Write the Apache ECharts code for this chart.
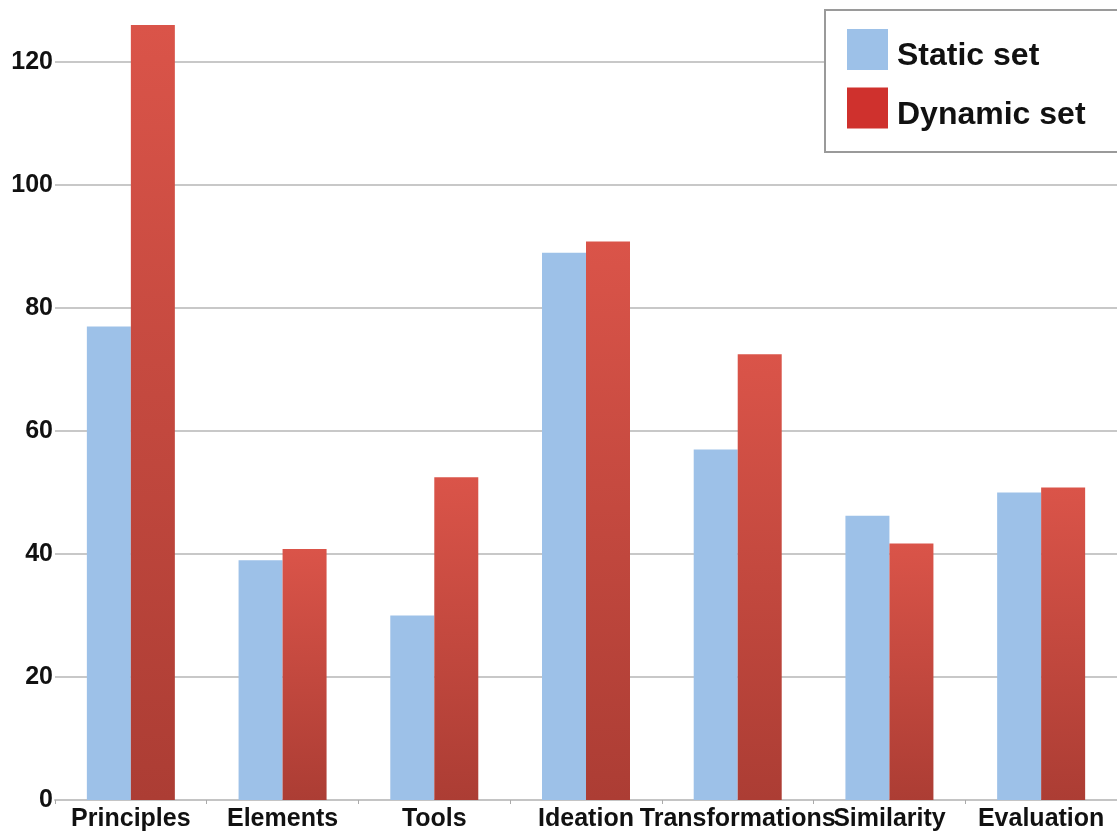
<!DOCTYPE html>
<html>
<head>
<meta charset="utf-8">
<script src="https://cdn.jsdelivr.net/npm/echarts@6/dist/echarts.min.js"></script>
<style>
html,body{margin:0;padding:0;background:#fff;}
#chart{width:1117px;height:834px;}
</style>
</head>
<body>
<div id="chart"></div>
<script>
const categories = ['Principles','Elements','Tools','Ideation','Transformations','Similarity','Evaluation'];
const staticSet = [77, 39, 30, 89, 57, 46.2, 50];
const dynamicSet = [126, 40.8, 52.5, 90.8, 72.5, 41.7, 50.8];
const yTicks = [0, 20, 40, 60, 80, 100, 120];

const chart = echarts.init(document.getElementById('chart'));
const font = '"Liberation Sans", Arial, sans-serif';
chart.setOption({
  animation: false,
  backgroundColor: '#ffffff',
  textStyle: { fontFamily: font },
  grid: { left: 55, right: 0, top: 62, bottom: 34, containLabel: false },
  legend: {
    orient: 'vertical',
    left: 825, top: 10,
    padding: [19, 60, 21, 22],
    itemWidth: 41, itemHeight: 41, itemGap: 15,
    icon: 'rect',
    borderColor: '#9a9a9a', borderWidth: 2,
    backgroundColor: '#ffffff',
    formatter: '{t|{name}}',
    textStyle: {
      fontFamily: font, fontWeight: 'bold', fontSize: 32, color: '#111', padding: [0, 0, 0, 4],
      rich: { t: { fontFamily: font, fontWeight: 'bold', fontSize: 32, color: '#111', padding: [14, 0, 0, 0] } }
    },
    data: [
      { name: 'Static set', itemStyle: { color: '#9dc1e8' } },
      { name: 'Dynamic set', itemStyle: { color: '#cf312d' } }
    ]
  },
  xAxis: {
    type: 'category',
    data: categories,
    axisLine: { lineStyle: { color: '#c4c4c4', width: 2 } },
    axisTick: { show: true, length: 4, lineStyle: { color: '#aaaaaa', width: 1 } },
    axisLabel: { interval: 0, margin: 7, fontFamily: font, fontWeight: 'bold', fontSize: 25, color: '#111' }
  },
  yAxis: {
    type: 'value',
    min: yTicks[0], max: yTicks[yTicks.length - 1], interval: 20,
    axisLine: { show: false },
    axisTick: { show: false },
    splitLine: { lineStyle: { color: '#c8c8c8', width: 2 } },
    axisLabel: { margin: 2, fontFamily: font, fontWeight: 'bold', fontSize: 25, color: '#111' }
  },
  series: [
    {
      name: 'Static set', type: 'bar', data: staticSet,
      barWidth: 44, barGap: '0%', clip: false,
      itemStyle: { color: '#9dc1e8' }
    },
    {
      name: 'Dynamic set', type: 'bar', data: dynamicSet,
      barWidth: 44, barGap: '0%', clip: false,
      itemStyle: {
        color: new echarts.graphic.LinearGradient(0, 0, 0, 1, [
          { offset: 0, color: '#da5449' },
          { offset: 1, color: '#ac3d34' }
        ], false)
      }
    }
  ]
});
</script>
</body>
</html>
